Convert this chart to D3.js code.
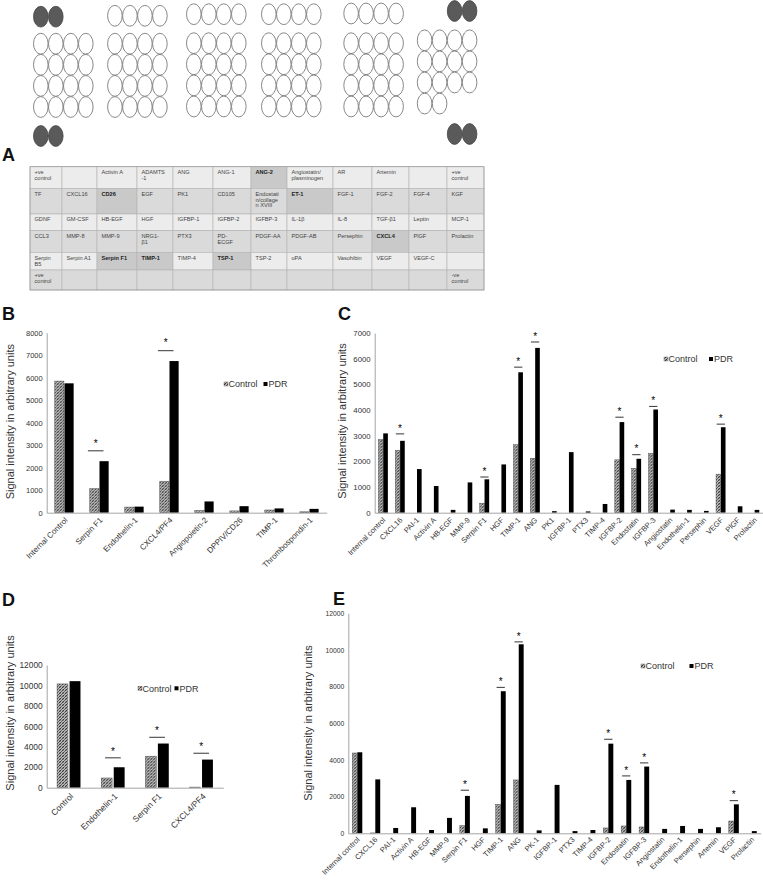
<!DOCTYPE html>
<html>
<head>
<meta charset="utf-8">
<script src="https://cdn.jsdelivr.net/npm/d3@7"></script>
<style>
  body { margin: 0; background: #fff; }
  svg { display: block; font-family: Arial, "Liberation Sans", sans-serif; }
</style>
</head>
<body>
<svg id="fig" width="763" height="883"></svg>
<script>
// ---- Panel A: array spot layout (per block: columns used in top row, grid rows, bottom row)
const spotTopRow    = [[0, 1], [0, 1, 2, 3], [0, 1, 2, 3], [0, 1, 2, 3], [0, 1, 2, 3], [2, 3]];
const spotTopFilled = [true, false, false, false, false, true];
const spotGridRows  = [[4, 4, 4, 4], [4, 4, 4, 4], [4, 4, 4, 4], [4, 4, 4, 4], [4, 4, 4, 4], [4, 4, 4, 2]];
const spotBottomRow = [[0, 1], [], [], [], [], [2, 3]];

// ---- Panel A: antibody map
const tableRows = [
  ['+ve\ncontrol', '', 'Activin A', 'ADAMTS\n-1', 'ANG', 'ANG-1', 'ANG-2', 'Angiostatin/\nplasminogen', 'AR', 'Artemin', '', '+ve\ncontrol'],
  ['TF', 'CXCL16', 'CD26', 'EGF', 'PK1', 'CD105', 'Endostati\nn/collage\nn XVIII', 'ET-1', 'FGF-1', 'FGF-2', 'FGF-4', 'KGF'],
  ['GDNF', 'GM-CSF', 'HB-EGF', 'HGF', 'IGFBP-1', 'IGFBP-2', 'IGFBP-3', 'IL-1β', 'IL-8', 'TGF-β1', 'Leptin', 'MCP-1'],
  ['CCL3', 'MMP-8', 'MMP-9', 'NRG1-\nβ1', 'PTX3', 'PD-\nECGF', 'PDGF-AA', 'PDGF-AB', 'Persephin', 'CXCL4', 'PlGF', 'Prolactin'],
  ['Serpin\nB5', 'Serpin A1', 'Serpin F1', 'TIMP-1', 'TIMP-4', 'TSP-1', 'TSP-2', 'uPA', 'Vasohibin', 'VEGF', 'VEGF-C', ''],
  ['+ve\ncontrol', '', '', '', '', '', '', '', '', '', '', '-ve\ncontrol']
];
const tableBold = ['ANG-2', 'CD26', 'ET-1', 'CXCL4', 'Serpin F1', 'TIMP-1', 'TSP-1'];

// ---- Panel B
const bCats    = ['Internal Control', 'Serpin F1', 'Endothelin-1', 'CXCL4/PF4', 'Angiopoietin-2', 'DPPIV/CD26', 'TIMP-1', 'Thrombospondin-1'];
const bControl = [5850, 1070, 250, 1400, 100, 80, 120, 40];
const bPDR     = [5750, 2290, 270, 6740, 500, 290, 190, 170];
const bSig     = [['Serpin F1', 2750], ['CXCL4/PF4', 7200]];

// ---- Panel C
const cCats    = ['Internal control', 'CXCL16', 'PAI-1', 'Activin A', 'HB-EGF', 'MMP-9', 'Serpin F1', 'HGF', 'TIMP-1', 'ANG', 'PK1', 'IGFBP-1', 'PTX3', 'TIMP-4', 'IGFBP-2', 'Endostatin', 'IGFBP-3', 'Angiostatin', 'Endothelin-1', 'Persephin', 'VEGF', 'PlGF', 'Prolactin'];
const cControl = [2850, 2430, 0, 0, 0, 0, 370, 0, 2650, 2120, 0, 0, 0, 0, 2060, 1730, 2310, 0, 0, 0, 1500, 0, 0];
const cPDR     = [3090, 2800, 1700, 1040, 110, 1180, 1300, 1880, 5470, 6420, 60, 2360, 50, 340, 3530, 2100, 4020, 120, 110, 70, 3330, 250, 110];
const cSig     = [['CXCL16', 3070], ['Serpin F1', 1390], ['TIMP-1', 5670], ['ANG', 6650], ['IGFBP-2', 3720], ['Endostatin', 2260], ['IGFBP-3', 4140], ['VEGF', 3450]];

// ---- Panel D
const dCats    = ['Control', 'Endothelin-1', 'Serpin F1', 'CXCL4/PF4'];
const dControl = [10150, 950, 3080, 60];
const dPDR     = [10420, 2000, 4320, 2750];
const dSig     = [['Endothelin-1', 2920], ['Serpin F1', 4930], ['CXCL4/PF4', 3370]];

// ---- Panel E
const eCats    = ['Internal control', 'CXCL16', 'PAI-1', 'Activin A', 'HB-EGF', 'MMP-9', 'Serpin F1', 'HGF', 'TIMP-1', 'ANG', 'PK-1', 'IGFBP-1', 'PTX3', 'TIMP-4', 'IGFBP-2', 'Endostatin', 'IGFBP-3', 'Angiostatin', 'Endothelin-1', 'Persephin', 'Artemin', 'VEGF', 'Prolactin'];
const eControl = [4380, 20, 0, 0, 0, 0, 420, 0, 1580, 2910, 0, 0, 0, 0, 290, 400, 345, 0, 0, 0, 0, 670, 0];
const ePDR     = [4420, 2940, 290, 1420, 180, 840, 2040, 270, 7750, 10310, 160, 2640, 120, 180, 4890, 2910, 3640, 240, 400, 240, 330, 1580, 120];
const eSig     = [['Serpin F1', 2350], ['TIMP-1', 7960], ['ANG', 10440], ['IGFBP-2', 5130], ['Endostatin', 3130], ['IGFBP-3', 3840], ['VEGF', 1780]];

const svg = d3.select('#fig');

// ---- Hatch used for the Control series
const pat = svg.append('defs').append('pattern')
    .attr('id', 'hatch').attr('patternUnits', 'userSpaceOnUse')
    .attr('width', 3).attr('height', 3);
pat.append('rect').attr('width', 3).attr('height', 3).attr('fill', '#bdbdbd');
pat.append('path').attr('d', 'M-1,1L1,-1M0,3L3,0M2,4L4,2')
    .attr('stroke', '#333').attr('stroke-width', 1);
pat.append('path').attr('d', 'M-1,2L1,4M0,0L3,3M2,-1L4,1')
    .attr('stroke', '#7a7a7a').attr('stroke-width', 0.6);

// ---- Panel letters
[['A', 2, 161], ['B', 2, 320], ['C', 338, 320], ['D', 2, 606], ['E', 333, 605]].forEach(([t, x, y]) => {
    svg.append('text').attr('x', x).attr('y', y)
        .attr('font-size', 18).attr('font-weight', 'bold').attr('fill', '#111').text(t);
});

// ---- Array schematic
const blockLeft = [33.3, 107.4, 186.3, 261.3, 343.6, 417.1];
const topRowY   = [16.7, 15.8, 14.2, 14.2, 13.5, 11];
const gridY0    = [43.7, 43.7, 43.2, 43.2, 43.2, 40.3];
const bottomY   = [136, 0, 0, 0, 0, 134];
const colStep = 15, rowStep = 21.1, rx = 7.3, ry = 10.4;

const spots = [];
blockLeft.forEach((left, b) => {
    const cx = c => left + rx + 0.2 + c * colStep;
    spotTopRow[b].forEach(c => spots.push({ x: cx(c), y: topRowY[b], filled: spotTopFilled[b] }));
    spotGridRows[b].forEach((n, r) => d3.range(n).forEach(c =>
        spots.push({ x: cx(c), y: gridY0[b] + r * rowStep, filled: false })));
    spotBottomRow[b].forEach(c => spots.push({ x: cx(c), y: bottomY[b], filled: true }));
});
svg.append('g').selectAll('ellipse').data(spots).join('ellipse')
    .attr('cx', d => d.x).attr('cy', d => d.y).attr('rx', rx).attr('ry', ry)
    .attr('fill', d => d.filled ? '#5a5a5a' : '#fff')
    .attr('stroke', d => d.filled ? '#444' : '#6a6a6a')
    .attr('stroke-width', 0.8);

// ---- Antibody map table
const colEdges = [30, 62, 97, 137, 173, 213, 251, 287, 333, 372, 409, 447, 484];
const rowEdges = [166.7, 188.3, 214, 230.7, 252.3, 270, 290];
const tg = svg.append('g');
tableRows.forEach((row, r) => {
    row.forEach((txt, c) => {
        const bold = tableBold.includes(txt);
        const x = colEdges[c], y = rowEdges[r];
        tg.append('rect')
            .attr('x', x).attr('y', y)
            .attr('width', colEdges[c + 1] - x).attr('height', rowEdges[r + 1] - y)
            .attr('fill', bold ? '#c9c9c9' : (r % 2 === 0 ? '#ececec' : '#dadada'))
            .attr('stroke', '#b3b3b3').attr('stroke-width', 0.6);
        if (!txt) return;
        const t = tg.append('text')
            .attr('font-size', 5.6)
            .attr('font-weight', bold ? 'bold' : 'normal')
            .attr('fill', bold ? '#222' : '#444');
        txt.split('\n').forEach((line, i) => {
            t.append('tspan').attr('x', x + 4.5).attr('y', y + 7.4 + i * 5.8).text(line);
        });
    });
});
tg.append('rect').attr('x', 30).attr('y', 166.7).attr('width', 454).attr('height', 123.3)
    .attr('fill', 'none').attr('stroke', '#a0a0a0').attr('stroke-width', 0.8);

// ---- Grouped bar panel
function drawPanel(p) {
    const g = svg.append('g');
    const x = d3.scaleBand().domain(p.cats).range([p.x0, p.x1])
        .paddingInner(1 - p.pairFrac).paddingOuter((1 - p.pairFrac) / 2);
    const xs = d3.scaleBand().domain(['Control', 'PDR'])
        .range([0, x.bandwidth()]).paddingInner(p.barGap);
    const y = d3.scaleLinear().domain([0, p.yMax]).range([p.yBase, p.yTop]);

    const rows = p.cats.map((c, i) => ({ cat: c, Control: p.control[i], PDR: p.pdr[i] }));

    // ---- Bars
    g.selectAll('.cat').data(rows).join('g')
        .attr('class', 'cat')
        .attr('transform', d => `translate(${x(d.cat)},0)`)
        .selectAll('rect')
        .data(d => ['Control', 'PDR'].map(k => ({ k, v: d[k] })))
        .join('rect')
        .attr('x', d => xs(d.k))
        .attr('width', xs.bandwidth())
        .attr('y', d => y(d.v))
        .attr('height', d => p.yBase - y(d.v))
        .attr('fill', d => d.k === 'Control' ? 'url(#hatch)' : '#000')
        .attr('stroke', d => d.k === 'Control' ? '#555' : 'none')
        .attr('stroke-width', 0.5);

    // ---- Axes
    const ya = g.append('g').attr('transform', `translate(${p.x0},0)`)
        .call(d3.axisLeft(y).tickValues(d3.range(0, p.yMax + 1, p.step))
            .tickSize(0).tickSizeOuter(0).tickPadding(4).tickFormat(d3.format('d')));
    ya.attr('font-family', null).attr('font-size', null);
    ya.select('.domain').attr('stroke', '#a6a6a6');
    ya.selectAll('.tick text').attr('font-size', p.tickFont).attr('fill', '#333');

    const xa = g.append('g').attr('transform', `translate(0,${p.yBase})`)
        .call(d3.axisBottom(x).tickSize(0).tickSizeOuter(0));
    xa.attr('font-family', null).attr('font-size', null);
    xa.select('.domain').attr('stroke', '#a6a6a6');
    xa.selectAll('.tick text')
        .attr('y', 0).attr('dy', '0.35em')
        .attr('text-anchor', 'end')
        .attr('font-size', p.xFont).attr('fill', '#333')
        .attr('transform', `translate(${p.lblDx},${p.lblDy}) rotate(-45)`);

    // ---- Axis title
    g.append('text')
        .attr('transform', `translate(${p.titleX},${p.titleY}) rotate(-90)`)
        .attr('text-anchor', 'middle').attr('dominant-baseline', 'central')
        .attr('font-size', p.titleFont).attr('fill', '#333')
        .text('Signal intensity in arbitrary units');

    // ---- Significance marks
    p.sig.forEach(([cat, lvl]) => {
        const cx = x(cat) + x.bandwidth() / 2 + p.sigShift;
        g.append('line')
            .attr('x1', cx - p.sigW / 2).attr('x2', cx + p.sigW / 2)
            .attr('y1', y(lvl)).attr('y2', y(lvl))
            .attr('stroke', '#000').attr('stroke-width', 0.8);
        g.append('text')
            .attr('x', cx).attr('y', y(lvl) - p.starGap)
            .attr('text-anchor', 'middle').attr('font-size', 10).attr('fill', '#000')
            .text('*');
    });

    // ---- Legend
    const L = p.legend;
    const lg = g.append('g').attr('font-size', 9).attr('fill', '#333');
    lg.append('rect').attr('x', L.x).attr('y', L.y - 2).attr('width', 4).attr('height', 4)
        .attr('fill', 'url(#hatch)').attr('stroke', '#555').attr('stroke-width', 0.4);
    lg.append('text').attr('x', L.x + 4.5).attr('y', L.y + 3.2).text('Control');
    lg.append('rect').attr('x', L.pdrX).attr('y', L.y - 2).attr('width', 4).attr('height', 4)
        .attr('fill', '#000');
    lg.append('text').attr('x', L.pdrX + 5).attr('y', L.y + 3.2).text('PDR');
}

drawPanel({
    cats: bCats, control: bControl, pdr: bPDR, sig: bSig,
    x0: 46.7, x1: 326.7, yTop: 332.7, yBase: 512.7, yMax: 8000, step: 1000,
    pairFrac: 0.54, barGap: 0.06, tickFont: 7.5, xFont: 8, lblDx: 2, lblDy: 6,
    titleX: 9.5, titleY: 421.7, titleFont: 11,
    sigW: 15.6, sigShift: -3.5, starGap: 4.3,
    legend: { x: 224, y: 384, pdrX: 263.5 }
});
drawPanel({
    cats: cCats, control: cControl, pdr: cPDR, sig: cSig,
    x0: 374.7, x1: 763, yTop: 333, yBase: 512.7, yMax: 7000, step: 1000,
    pairFrac: 0.56, barGap: 0.04, tickFont: 7.8, xFont: 7.5, lblDx: 1, lblDy: 6,
    titleX: 341.7, titleY: 421, titleFont: 11,
    sigW: 8.3, sigShift: 0, starGap: 2.3,
    legend: { x: 664, y: 359, pdrX: 709 }
});
drawPanel({
    cats: dCats, control: dControl, pdr: dPDR, sig: dSig,
    x0: 46.7, x1: 223.3, yTop: 665, yBase: 787.7, yMax: 12000, step: 2000,
    pairFrac: 0.53, barGap: 0.13, tickFont: 8.4, xFont: 8.5, lblDx: 3, lblDy: 7,
    titleX: 9.5, titleY: 713, titleFont: 11,
    sigW: 15.7, sigShift: 0, starGap: 3,
    legend: { x: 138, y: 688.3, pdrX: 174.5 }
});
drawPanel({
    cats: eCats, control: eControl, pdr: ePDR, sig: eSig,
    x0: 348.3, x1: 760.7, yTop: 613.3, yBase: 833.3, yMax: 12000, step: 2000,
    pairFrac: 0.56, barGap: 0.04, tickFont: 6.8, xFont: 7.5, lblDx: 1, lblDy: 5,
    titleX: 307.5, titleY: 723, titleFont: 11,
    sigW: 8.3, sigShift: 0, starGap: 2.3,
    legend: { x: 641, y: 666, pdrX: 689.5 }
});
</script>
</body>
</html>
